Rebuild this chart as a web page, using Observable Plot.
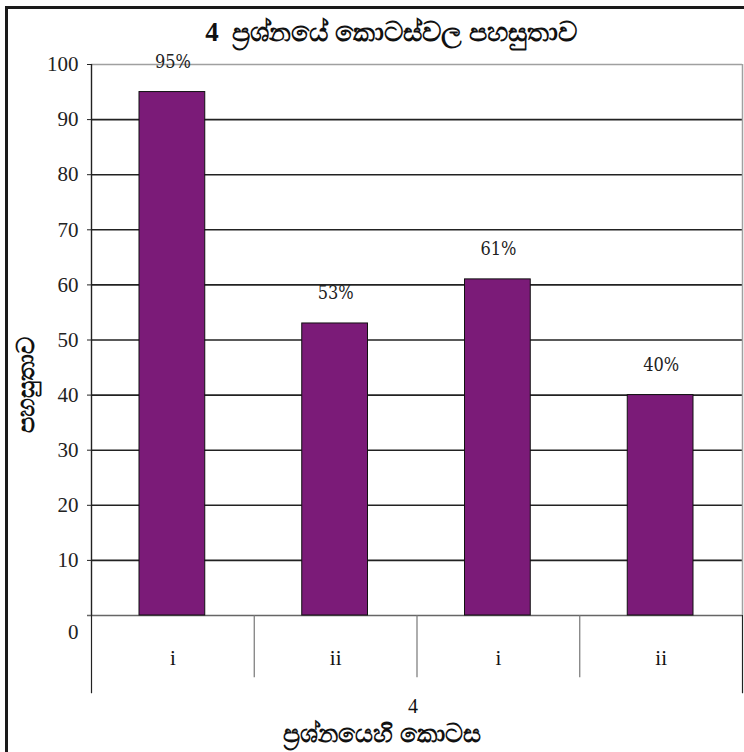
<!DOCTYPE html>
<html>
<head>
<meta charset="utf-8">
<script src="https://cdn.jsdelivr.net/npm/d3@7"></script>
<script src="https://cdn.jsdelivr.net/npm/@observablehq/plot@0.6"></script>
<style>
  html, body { margin: 0; padding: 0; background: #fff; }
  #wrap { position: relative; width: 744px; height: 752px; overflow: hidden; }
  #border { position: absolute; left: 5px; top: 6px; width: 760px; height: 760px;
            border-left: 3px solid #1a1a1a; border-top: 3px solid #1a1a1a; box-sizing: border-box; pointer-events: none; }
  #chart { position: absolute; left: 0; top: 0; }
  .pct text { font-stretch: condensed; }
</style>
</head>
<body>
<div id="wrap"><div id="chart"></div><div id="border"></div></div>
<script>
// ---- data ----
const parts = ["i", "ii", "i", "ii"];
const ease = [95, 53, 61, 40];
const valueLabels = ["95%", "53%", "61%", "40%"];
const yTicks = [10, 20, 30, 40, 50, 60, 70, 80, 90, 100];
const titleText = "4  ප්‍රශ්නයේ කොටස්වල පහසුතාව";
const yTitle = "පහසුතාව";
const xTitleTop = "4";
const xTitleBottom = "ප්‍රශ්නයෙහි කොටස";

const rows = parts.map((p, i) => ({i, part: p, value: ease[i], label: valueLabels[i]}));
const edges = d3.range(parts.length + 1);
const innerEdges = edges.slice(1, -1);
const outerEdges = [0, parts.length];

const serif = "'Liberation Serif', 'Times New Roman', serif";
const narrow = "'DejaVu Serif Condensed', 'DejaVu Serif', serif";
const purple = "#7b1b78";

const chart = Plot.plot({
  width: 744,
  height: 752,
  marginLeft: 91,
  marginRight: 2,
  marginTop: 64,
  marginBottom: 137,
  style: {fontFamily: serif, background: "transparent"},
  x: {type: "linear", domain: [0, parts.length], axis: null},
  y: {domain: [0, 100], axis: null},
  marks: [
    // grid lines
    Plot.ruleY(yTicks.filter(t => t < 100), {stroke: "#222", strokeWidth: 1.6}),
    Plot.ruleY([100], {stroke: "#a0a0a0", strokeWidth: 1.6}),
    Plot.ruleY([0], {stroke: "#666", strokeWidth: 1.6, insetLeft: -4}),
    // bars
    Plot.rectY(rows, {x1: "i", x2: d => d.i + 1, y: "value", fill: purple, stroke: "#111", strokeWidth: 1, insetLeft: 48, insetRight: 49}),
    // plot right border
    Plot.ruleX([parts.length], {y1: 0, y2: 100, stroke: "#a0a0a0", strokeWidth: 1.5}),
    // category dividers below the axis
    Plot.ruleX(innerEdges, {y1: 0, y2: -11.3, stroke: "#777", strokeWidth: 1.2}),
    Plot.ruleX(outerEdges, {y1: 0, y2: -14.2, stroke: "#222", strokeWidth: 1.2}),
    // y axis line and ticks
    Plot.ruleX([0], {y1: 0, y2: 100, stroke: "#222", strokeWidth: 1.4}),
    Plot.axisY(yTicks, {label: null, tickSize: 4, tickPadding: 9, fontSize: 21, stroke: "#222", fill: "#222", tickFormat: d => String(d)}),
    Plot.axisY([0], {label: null, tickSize: 0, tickPadding: 13, fontSize: 21, fill: "#222", dy: 17, tickFormat: d => String(d)}),
    // category labels
    Plot.text(rows, {x: d => d.i + 0.5, y: 0, text: "part", dy: 43, fontSize: 21, fill: "#111"}),
    // value labels
    Plot.text(rows, {x: d => d.i + 0.5, y: "value", text: "label", dy: -30, fontSize: 18, fontFamily: narrow, fill: "#222", className: "pct"}),
    // titles
    Plot.text([titleText], {frameAnchor: "top", dx: -26, dy: -43, fontSize: 27, fontWeight: "bold", fill: "#111"}),
    Plot.text([yTitle], {frameAnchor: "left", textAnchor: "middle", dx: -65, dy: 45, rotate: -90, fontSize: 24, fontWeight: "bold", fill: "#111"}),
    Plot.text([xTitleTop], {frameAnchor: "bottom", lineAnchor: "middle", dx: -4, dy: 91, fontSize: 20, fill: "#111"}),
    Plot.text([xTitleBottom], {frameAnchor: "bottom", lineAnchor: "middle", dx: -35, dy: 118, fontSize: 25, fontWeight: "bold", fill: "#111"})
  ]
});
document.getElementById("chart").appendChild(chart);
</script>
</body>
</html>
